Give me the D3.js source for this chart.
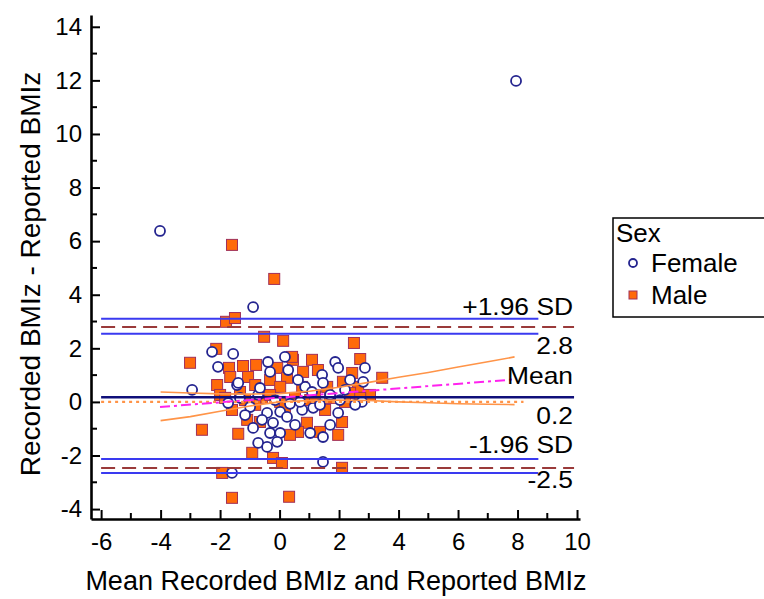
<!DOCTYPE html>
<html>
<head>
<meta charset="utf-8">
<script src="https://cdn.jsdelivr.net/npm/d3@7"></script>
<style>
  body { margin: 0; background: #fff; }
  svg text { font-family: "Liberation Sans", Arial, sans-serif; fill: #000; }
</style>
</head>
<body>
<div id="chart"></div>
<script>
// Bland-Altman data: mean of recorded & reported BMIz (x), difference (y)
const femaleMean = [-4.02, 7.95, -0.89, -2.94, -2.27, -1.56, -2.07, -0.39, 0.18, 0.29, -0.32, 1.87, 1.97, 2.87,
  1.43, 2.37, 2.81, -1.43, 0.86, 1.46, -0.42, -0.99, -0.89, 0.02, 0.25, -0.22, -0.32, 0.02, -0.08, -0.72,
  1.13, 1.97, 1.46, 1.03, 0.76, 1.46, -1.60, -0.42, 2.77, -1.73, -1.33, -0.15, 0.35, 1.36, 2.03, 2.54,
  0.69, -0.72, 1.09, -1.39, -0.59, -1.16, 0.52, 1.70, -0.66, 0.62, 2.20, 1.70];
const femaleDiff = [6.38, 11.98, 3.54, 0.45, 1.87, 1.79, 1.31, 1.49, 1.68, 1.19, 1.12, 1.49, 1.27, 1.27,
  1.01, 0.82, 0.75, 0.63, 0.56, 0.71, -0.41, -0.19, -0.97, -0.37, -0.56, -0.78, -1.16, -1.16, -1.49, -1.53,
  -0.22, -0.41, -1.31, -1.16, -0.30, -2.24, -2.65, -1.68, 0.00, -0.04, 0.15, 0.07, -0.07, -0.11, 0.07, -0.11,
  0.00, 0.26, 0.37, 0.71, -0.67, -0.49, -0.86, -0.86, 0.52, 0.82, 0.45, 0.26];

const maleMean = [-1.60, -0.18, -1.80, -1.50, -0.52, 0.12, 2.50, -2.13, 2.71, -3.01, -1.70, -1.23, -0.79, -0.08,
  0.45, 1.09, 0.79, 1.29, 2.44, 3.45, -2.10, -1.66, -1.06, -0.82, -0.32, 0.25, 0.02, 0.76, 1.60, 2.13,
  2.64, -2.00, -1.33, 3.04, 2.37, -1.60, -2.61, -1.09, -0.66, -1.39, 0.92, 1.36, 1.97, 2.10, 0.62, 0.35,
  -0.92, -0.22, 0.08, 2.10, -1.93, -1.60, 0.32, 0.42, -1.83, -1.16, -0.59, 0.02, 0.52, 1.03, 1.70, 2.20,
  2.71, 1.19, -0.32, -0.82, 0.18, 1.53];
const maleDiff = [5.86, 4.59, 2.99, 3.13, 2.43, 2.28, 2.20, 1.98, 1.60, 1.46, 1.27, 1.34, 1.38, 1.27,
  1.57, 1.57, 1.12, 1.19, 1.08, 0.90, 0.63, 0.93, 0.93, 0.63, 0.82, 0.90, 0.56, 0.56, 0.56, 0.75,
  0.56, 0.26, 0.37, 0.26, 0.34, -0.30, -1.04, -0.67, -0.75, -1.19, -0.78, -1.12, -1.23, -0.75, -1.12, -1.23,
  -1.90, -2.09, -2.28, -2.46, -2.65, -3.58, -3.54, 1.68, 0.15, 0.07, 0.15, 0.00, 0.15, 0.07, 0.15, 0.00,
  0.15, 0.26, 0.26, -0.11, -0.22, -0.30];

// agreement statistics
const meanDiff = 0.17;
const upperLoA = 2.80;
const lowerLoA = -2.47;
const upperLoACI = [2.54, 3.10];
const lowerLoACI = [-2.65, -2.13];
const lineXRange = [-6, 9.9];
const ciXRange = [-6, 8.7];
const zeroXRange = [-6, 8.2];

// regression of difference on mean, with its confidence band
const regX = [-4.02, 7.9];
const regY = [-0.19, 0.84];
const bandX = [-4, -3, -2, -1, 0, 1, 2, 3, 4, 5, 6, 7, 7.9];
const bandUpper = [0.37, 0.33, 0.30, 0.29, 0.31, 0.40, 0.55, 0.73, 0.92, 1.10, 1.30, 1.50, 1.68];
const bandLower = [-0.70, -0.55, -0.35, -0.15, 0.00, 0.05, 0.07, 0.05, 0.00, -0.03, -0.07, -0.09, -0.10];

const xTicks = [-6, -4, -2, 0, 2, 4, 6, 8, 10];
const xMinorTicks = [-5, -3, -1, 1, 3, 5, 7, 9];
const yTicks = [-4, -2, 0, 2, 4, 6, 8, 10, 12, 14];
const yMinorTicks = [-3, -1, 1, 3, 5, 7, 9, 11, 13];

const sexes = ["Female", "Male"];
const lineLabels = ["+1.96 SD", "2.8", "Mean", "0.2", "-1.96 SD", "-2.5"];

const W = 764, H = 599;
const svg = d3.select("#chart").append("svg").attr("width", W).attr("height", H);

const x = d3.scaleLinear().domain([-6.34, 10.1]).range([91, 580]);
const y = d3.scaleLinear().domain([-4.37, 14.44]).range([519, 15]);

const navy = "#24248f";
const blue = "#3a3af0";
const brown = "#9a3a3a";
const orange = "#ff6a0a";
const bandCol = "#ff9448";

// Points: males first, females drawn on top
const plot = svg.append("g");
const sq = 11;
plot.selectAll("rect.male")
  .data(d3.zip(maleMean, maleDiff))
  .join("rect")
  .attr("class", "male")
  .attr("x", d => x(d[0]) - sq / 2)
  .attr("y", d => y(d[1]) - sq / 2)
  .attr("width", sq).attr("height", sq)
  .attr("fill", orange)
  .attr("stroke", "#a0305a")
  .attr("stroke-width", 1);

plot.selectAll("circle.female")
  .data(d3.zip(femaleMean, femaleDiff))
  .join("circle")
  .attr("class", "female")
  .attr("cx", d => x(d[0]))
  .attr("cy", d => y(d[1]))
  .attr("r", 5)
  .attr("fill", "#fff")
  .attr("stroke", navy)
  .attr("stroke-width", 1.8);

// horizontal reference lines
function hline(v, xr, color, width, dash) {
  svg.append("line")
    .attr("x1", x(xr[0])).attr("x2", x(xr[1]))
    .attr("y1", y(v)).attr("y2", y(v))
    .attr("stroke", color)
    .attr("stroke-width", width)
    .attr("stroke-dasharray", dash || null);
}
hline(0, zeroXRange, bandCol, 2.2, "3,4");
upperLoACI.forEach(v => hline(v, ciXRange, blue, 2));
lowerLoACI.forEach(v => hline(v, ciXRange, blue, 2));
hline(upperLoA, lineXRange, brown, 2, "14,7");
hline(lowerLoA, lineXRange, brown, 2, "14,7");
hline(meanDiff, lineXRange, "#10107a", 2.5);

// regression band and line
const bandLine = d3.line().x(d => x(d[0])).y(d => y(d[1]));
[bandUpper, bandLower].forEach(b => {
  svg.append("path")
    .datum(d3.zip(bandX, b))
    .attr("d", bandLine)
    .attr("fill", "none")
    .attr("stroke", bandCol)
    .attr("stroke-width", 1.6);
});
svg.append("path")
  .datum(d3.zip(regX, regY))
  .attr("d", bandLine)
  .attr("fill", "none")
  .attr("stroke", "#ff22ee")
  .attr("stroke-width", 2)
  .attr("stroke-dasharray", "10,4,3,4");

// line labels on the right (slightly widened like the source)
const labelX = x(lineXRange[1]) - 1;
const labelY = [y(upperLoACI[1]) - 4, y(upperLoACI[0]) + 20, y(meanDiff) - 13,
                y(meanDiff) + 27, y(lowerLoACI[1]) - 6, y(lowerLoACI[0]) + 15];
lineLabels.forEach((t, i) => {
  svg.append("text")
    .attr("transform", `translate(${labelX},${labelY[i]}) scale(1.1,1)`)
    .attr("text-anchor", "end")
    .attr("font-size", "24px")
    .text(t);
});

// axes
const yAxis = svg.append("g")
  .attr("transform", `translate(${x.range()[0]},0)`)
  .call(d3.axisLeft(y).tickValues(yTicks).tickFormat(d => String(d))
    .tickSize(-9).tickSizeOuter(0).tickPadding(9));
yAxis.append("g").selectAll("line")
  .data(yMinorTicks)
  .join("line")
  .attr("x1", 0).attr("x2", 6)
  .attr("y1", d => y(d)).attr("y2", d => y(d))
  .attr("stroke", "#000").attr("stroke-width", 2);

const xAxis = svg.append("g")
  .attr("transform", `translate(0,${y.range()[0]})`)
  .call(d3.axisBottom(x).tickValues(xTicks).tickFormat(d => String(d))
    .tickSize(-9).tickSizeOuter(0).tickPadding(14));
xAxis.append("g").selectAll("line")
  .data(xMinorTicks)
  .join("line")
  .attr("x1", d => x(d)).attr("x2", d => x(d))
  .attr("y1", 0).attr("y2", -6)
  .attr("stroke", "#000").attr("stroke-width", 2);

[xAxis, yAxis].forEach(a => {
  a.select(".domain").attr("stroke", "#000").attr("stroke-width", 2.6);
  a.selectAll(".tick line").attr("stroke", "#000").attr("stroke-width", 2);
  a.selectAll(".tick text")
    .attr("font-size", "24px")
    .attr("font-family", "Liberation Sans, Arial, sans-serif")
    .attr("fill", "#000");
});

// axis titles
svg.append("text")
  .attr("x", 336)
  .attr("y", 590)
  .attr("text-anchor", "middle")
  .attr("font-size", "27px")
  .text("Mean Recorded BMIz and Reported BMIz");

svg.append("text")
  .attr("transform", "translate(40,274) rotate(-90)")
  .attr("text-anchor", "middle")
  .attr("font-size", "28px")
  .text("Recorded BMIz - Reported BMIz");

// legend
const lg = svg.append("g");
lg.append("rect")
  .attr("x", 613).attr("y", 218)
  .attr("width", 160).attr("height", 99)
  .attr("fill", "#fff")
  .attr("stroke", "#000")
  .attr("stroke-width", 1.5);
lg.append("text").attr("x", 616).attr("y", 242).attr("font-size", "26px").text("Sex");
sexes.forEach((s, i) => {
  const cy = 263 + i * 32;
  if (s === "Female") {
    lg.append("circle").attr("cx", 633).attr("cy", cy).attr("r", 4)
      .attr("fill", "#fff").attr("stroke", navy).attr("stroke-width", 1.8);
  } else {
    lg.append("rect").attr("x", 629).attr("y", cy - 4).attr("width", 8).attr("height", 8)
      .attr("fill", orange).attr("stroke", "#a0305a").attr("stroke-width", 1);
  }
  lg.append("text").attr("x", 651).attr("y", cy + 9).attr("font-size", "26px").text(s);
});
</script>
</body>
</html>
